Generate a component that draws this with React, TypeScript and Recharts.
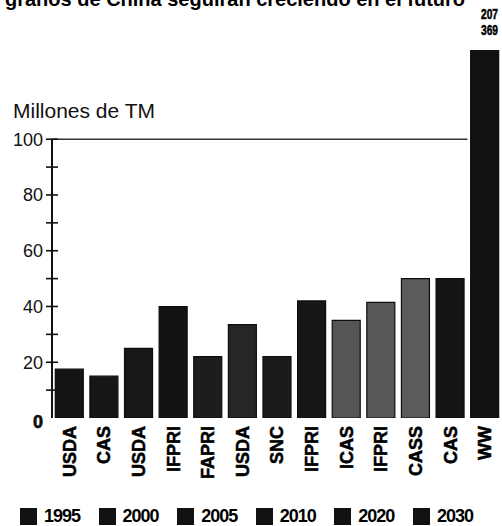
import { BarChart, Bar, Cell, XAxis, YAxis, ReferenceLine } from 'recharts'

const SOURCES = ['USDA', 'CAS', 'USDA', 'IFPRI', 'FAPRI', 'USDA', 'SNC', 'IFPRI', 'ICAS', 'IFPRI', 'CASS', 'CAS', 'WW']
const IMPORTS = [17.5, 15, 25, 40, 22, 33.5, 22, 42, 35, 41.5, 50, 50, 207]
const WW_VALUES = [207, 369]
const YEARS = ['1995', '2000', '2005', '2010', '2020', '2030']
const Y_TICKS = [0, 10, 20, 30, 40, 50, 60, 70, 80, 90, 100]
const Y_MAX = 132

const BAR_COLORS = ['#141414', '#161616', '#171717', '#121212', '#1d1d1d', '#262626', '#1b1b1b', '#161616', '#555555', '#575757', '#5c5c5c', '#141414', '#111111']
const FONT = '"Liberation Sans", Arial, sans-serif'

const data = SOURCES.map((name, i) => ({ key: `${name}-${i}`, name, value: IMPORTS[i] }))
const keys = data.map(d => d.key)

const XTick = ({ x, y, payload }: any) => {
  const name = payload.value.split('-')[0]
  return (
    <text
      x={x}
      y={y + 8}
      transform={`rotate(-90, ${x}, ${y + 8})`}
      textAnchor="end"
      dy="0.36em"
      fontFamily={FONT}
      fontWeight={700}
      fontSize={18}
      fill="#000"
      stroke="#000"
      strokeWidth={0.5}
    >
      {name}
    </text>
  )
}

const YTick = ({ x, y, payload }: any) => {
  const v = payload.value
  const showLabel = v % 20 === 0
  return (
    <g>
      {v > 0 && <line x1={x - 6} x2={x + 6} y1={y} y2={y} stroke="#111" strokeWidth={1.6} />}
      {showLabel && (
        <text
          x={x - 9}
          y={y + (v === 0 ? 4 : 0)}
          dy="0.36em"
          textAnchor="end"
          fontFamily={FONT}
          fontWeight={v === 0 ? 700 : 400}
          fontSize={18}
          fill="#111"
          stroke={v === 0 ? '#000' : 'none'}
          strokeWidth={0.6}
        >
          {v}
        </text>
      )}
    </g>
  )
}

// the WW bar runs off the top, so its real values are written above it
const WwLabel = ({ viewBox }: any) => {
  const right = viewBox.x + viewBox.width - 4
  return (
    <g fontFamily={FONT} fontWeight={700} fontSize={14} fill="#000" stroke="#000" strokeWidth={0.5} textAnchor="end">
      <text x={right} y={viewBox.y - 31} textLength={17} lengthAdjust="spacingAndGlyphs">{WW_VALUES[0]}</text>
      <text x={right} y={viewBox.y - 15} textLength={17} lengthAdjust="spacingAndGlyphs">{WW_VALUES[1]}</text>
    </g>
  )
}

export default function App() {
  return (
    <div
      style={{
        position: 'absolute',
        left: 0,
        top: 0,
        width: 502,
        height: 526,
        overflow: 'hidden',
        background: '#fff',
        fontFamily: FONT,
      }}
    >
      <div
        style={{
          position: 'absolute',
          left: 5,
          top: -11,
          fontSize: 20,
          fontWeight: 700,
          lineHeight: '20px',
          whiteSpace: 'nowrap',
          color: '#000',
        }}
      >
        granos de China seguirán creciendo en el futuro
      </div>

      <div style={{ position: 'absolute', left: 13, top: 99, fontSize: 21, lineHeight: '24px', color: '#111' }}>
        Millones de TM
      </div>

      <div style={{ position: 'absolute', left: 0, top: 0 }}>
        <BarChart width={502} height={500} data={data} margin={{ top: 50, right: 0, left: 0, bottom: 0 }} barCategoryGap="9.5%">
          <XAxis dataKey="key" tick={<XTick />} tickLine={false} axisLine={false} tickSize={0} tickMargin={0} height={82} interval={0} />
          <YAxis
            domain={[0, Y_MAX]}
            allowDataOverflow
            ticks={Y_TICKS}
            tick={<YTick />}
            tickLine={false}
            axisLine={false}
            tickSize={0}
            tickMargin={0}
            width={52}
            interval={0}
          />
          <ReferenceLine
            segment={[{ x: keys[0], y: 0 }, { x: keys[0], y: 100 }]}
            position="start"
            stroke="#111"
            strokeWidth={2}
          />
          <ReferenceLine
            segment={[{ x: keys[0], y: 100 }, { x: keys[keys.length - 1], y: 100 }]}
            position="start"
            stroke="#333"
            strokeWidth={1.6}
          />
          <ReferenceLine y={Y_MAX} stroke="none" label={WwLabel} />
          <Bar dataKey="value" isAnimationActive={false} stroke="#0d0d0d" strokeWidth={1.2}>
            {data.map((d, i) => (
              <Cell key={d.key} fill={BAR_COLORS[i]} />
            ))}
          </Bar>
        </BarChart>
      </div>

      <div
        style={{
          position: 'absolute',
          left: 20,
          width: 453,
          top: 507,
          display: 'flex',
          justifyContent: 'space-between',
          alignItems: 'center',
          fontWeight: 700,
          fontSize: 18,
          letterSpacing: -1,
          lineHeight: '19px',
          color: '#000',
        }}
      >
        {YEARS.map(y => (
          <div key={y} style={{ display: 'flex', alignItems: 'center' }}>
            <span style={{ display: 'inline-block', width: 17, height: 17, background: '#111', marginRight: 7 }} />
            <span>{y}</span>
          </div>
        ))}
      </div>
    </div>
  )
}
